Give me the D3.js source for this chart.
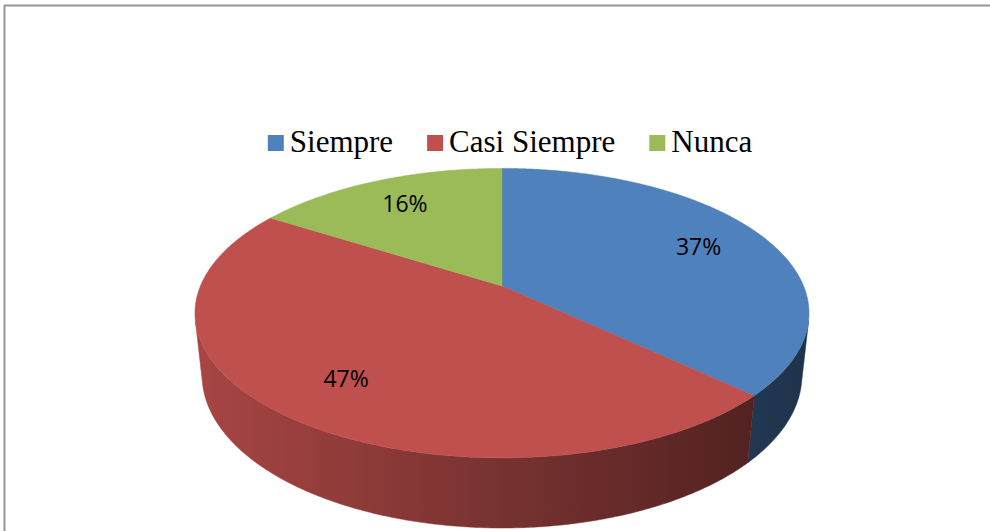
<!DOCTYPE html>
<html>
<head>
<meta charset="utf-8">
<script src="https://cdn.jsdelivr.net/npm/d3@7"></script>
<style>
  body { margin: 0; background: #fff; }
  svg { display: block; }
</style>
</head>
<body>
<script>
const width = 990;
const height = 531;

const categories = ["Siempre", "Casi Siempre", "Nunca"];
const values = [37, 47, 16];
const labels = ["37%", "47%", "16%"];
const colors = ["#4f81bd", "#c0504d", "#9bbb59"];

// 3d view of the pie (perspective, looking down)
const view = {
  cx: 502,
  cy: 286,
  scale: 301.6,
  dist: 4.73,
  tilt: Math.asin(0.463),
  depth: 0.234
};

function project(theta, r, y) {
  const x = r * Math.sin(theta);
  const z = -r * Math.cos(theta);
  const w = view.dist - y * Math.sin(view.tilt) - z * Math.cos(view.tilt);
  const v = y * Math.cos(view.tilt) - z * Math.sin(view.tilt);
  return [view.cx + view.scale * x * view.dist / w, view.cy - view.scale * v * view.dist / w];
}

const svg = d3.select("body").append("svg")
  .attr("width", width)
  .attr("height", height);

// chart frame, cut by the picture edge
svg.append("rect")
  .attr("x", 4.5)
  .attr("y", 5.5)
  .attr("width", width + 20)
  .attr("height", height + 20)
  .attr("fill", "none")
  .attr("stroke", "#969696")
  .attr("stroke-width", 2);

const pie = d3.pie().sort(null).value(d => d);
const arcs = pie(values);

const line = d3.line();
const steps = a => Math.max(2, Math.ceil(Math.abs(a) / 0.01));
const arcPoints = (a0, a1, y) => d3.range(steps(a1 - a0) + 1)
  .map(i => project(a0 + (a1 - a0) * i / steps(a1 - a0), 1, y));

// side walls: only the part that faces the camera
const visFrom = Math.acos(-1 / (view.dist * Math.cos(view.tilt)));
const visTo = 2 * Math.PI - visFrom;

const leftX = project(visTo, 1, 0)[0] - 10;
const rightX = project(visFrom, 1, 0)[0] + 10;

const defs = svg.append("defs");
colors.forEach((c, i) => {
  const base = d3.rgb(c);
  const g = defs.append("linearGradient")
    .attr("id", "side" + i)
    .attr("gradientUnits", "userSpaceOnUse")
    .attr("x1", leftX).attr("x2", rightX)
    .attr("y1", 0).attr("y2", 0);
  [[0, 0.88], [0.5, 0.62], [1, 0.38]].forEach(([o, k]) => {
    g.append("stop")
      .attr("offset", o)
      .attr("stop-color", d3.rgb(base.r * k, base.g * k, base.b * k).formatHex());
  });
});

const sides = svg.append("g");
arcs.forEach((d, i) => {
  const b0 = Math.max(d.startAngle, visFrom);
  const b1 = Math.min(d.endAngle, visTo);
  if (b1 <= b0) return;
  const pts = arcPoints(b0, b1, 0).concat(arcPoints(b1, b0, -view.depth));
  sides.append("path")
    .attr("d", line(pts) + "Z")
    .attr("fill", `url(#side${i})`)
    .attr("stroke", `url(#side${i})`)
    .attr("stroke-width", 0.5);
});

const tops = svg.append("g");
arcs.forEach((d, i) => {
  const pts = [project(0, 0, 0)].concat(arcPoints(d.startAngle, d.endAngle, 0));
  tops.append("path")
    .attr("d", line(pts) + "Z")
    .attr("fill", colors[i])
    .attr("stroke", colors[i])
    .attr("stroke-width", 0.5);
});

// percentage labels
const labelR = 0.75;
svg.append("g").selectAll("text")
  .data(arcs)
  .join("text")
  .attr("x", d => project((d.startAngle + d.endAngle) / 2, labelR, 0)[0])
  .attr("y", d => project((d.startAngle + d.endAngle) / 2, labelR, 0)[1])
  .attr("dy", "0.35em")
  .attr("text-anchor", "middle")
  .attr("font-family", "'Liberation Sans Narrow', 'Open Sans', sans-serif")
  .attr("font-size", "23px")
  .attr("fill", "#000")
  .text((d, i) => labels[i]);

// legend
const legend = svg.append("g").attr("id", "legend");
const items = legend.selectAll("g")
  .data(categories)
  .join("g");

items.append("rect")
  .attr("width", 16)
  .attr("height", 16)
  .attr("y", -17)
  .attr("fill", (d, i) => colors[i]);

items.append("text")
  .attr("x", 22)
  .attr("font-family", "'Liberation Serif', 'Times New Roman', serif")
  .attr("font-size", "31px")
  .attr("fill", "#000")
  .text(d => d);

let xpos = 0;
items.each(function () {
  const g = d3.select(this);
  g.attr("transform", `translate(${xpos},0)`);
  xpos += 22 + g.select("text").node().getComputedTextLength() + 34;
});
xpos -= 34;
legend.attr("transform", `translate(${510 - xpos / 2},152)`);
</script>
</body>
</html>
